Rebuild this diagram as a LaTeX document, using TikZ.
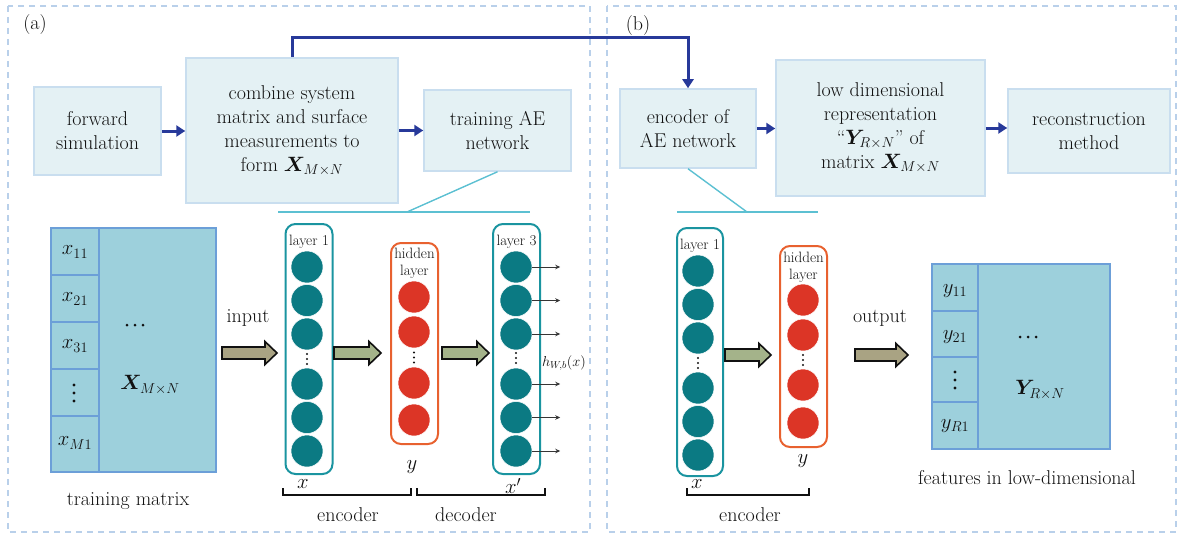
\documentclass[tikz,border=0pt]{standalone}
\usepackage{bm}
\usetikzlibrary{arrows.meta}
\definecolor{framec}{HTML}{B9D0EA}
\definecolor{boxfill}{HTML}{E4F1F4}
\definecolor{boxline}{HTML}{C9DEEF}
\definecolor{flowblue}{HTML}{27399A}
\definecolor{linkcyan}{HTML}{5CC0D2}
\definecolor{matfill}{HTML}{9DD0DC}
\definecolor{matline}{HTML}{6C9FD8}
\definecolor{tealc}{HTML}{0B7A83}
\definecolor{tealline}{HTML}{1A94A0}
\definecolor{redc}{HTML}{DC3526}
\definecolor{redline}{HTML}{E8612F}
\definecolor{khaki}{HTML}{A9A383}
\definecolor{sage}{HTML}{A4B38A}
\definecolor{ink}{HTML}{111111}

% thick hollow arrow between two x positions at height y
\newcommand{\fatarrow}[4]{%
  \draw[line width=1.6pt, draw=ink, fill=#4, line join=miter]
    (#1,#3-6) -- (#2-12,#3-6) -- (#2-12,#3-11.5) -- (#2,#3)
    -- (#2-12,#3+11.5) -- (#2-12,#3+6) -- (#1,#3+6) -- cycle;}

\tikzset{
  frame/.style={draw=framec, line width=2pt, dash pattern=on 6pt off 5pt},
  flowbox/.style={draw=boxline, fill=boxfill, line width=1.5pt, inner sep=0pt,
    align=center, text=ink},
  flow/.style={draw=flowblue, line width=3pt,
    -{Triangle[length=9pt,width=11pt]}},
  link/.style={draw=linkcyan, line width=1.4pt},
  matbox/.style={draw=matline, fill=matfill, line width=1.5pt, inner sep=0pt},
  matrule/.style={draw=matline, line width=1.5pt},
  tealayer/.style={draw=tealline, line width=2pt, rounded corners=10pt,
    inner sep=0pt, minimum width=47pt},
  redlayer/.style={draw=redline, line width=2pt, rounded corners=10pt,
    inner sep=0pt, minimum width=47pt},
  tealunit/.style={circle, fill=tealc, draw=white, line width=0.5pt,
    minimum size=32pt, inner sep=0pt},
  redunit/.style={circle, fill=redc, draw=white, line width=0.5pt,
    minimum size=32pt, inner sep=0pt},
  small/.style={font=\fontsize{15}{17}\selectfont, align=center, text=ink,
    inner sep=0pt},
  lbl/.style={text=ink, inner sep=0pt},
  brace/.style={draw=ink, line width=1.6pt},
  outarrow/.style={draw=ink!85, line width=0.9pt,
    -{Stealth[length=5pt,width=4.5pt]}},
  dot/.style={fill=ink, draw=none},
}

\begin{document}
\begin{tikzpicture}[x=1pt, y=-1pt, font=\fontsize{20}{24}\selectfont]
\useasboundingbox (0,0) rectangle (1181,535);

% panel frames and tags
\draw[frame] (8,6) rectangle (590,532);
\draw[frame] (607,6) rectangle (1176,532);
\node[lbl] (taga) at (35,25) {(a)};
\node[lbl] (tagb) at (638,26) {(b)};

% ---------- flow chart, panel (a)
\node[flowbox, minimum width=127pt, minimum height=88pt] (fwd) at (97.5,131)
  {forward\\simulation};
\node[flowbox, minimum width=212pt, minimum height=145pt] (comb) at (292,130.5)
  {combine system\\matrix and surface\\measurements to\\form $\bm{X}_{M\times N}$};
\node[flowbox, minimum width=147pt, minimum height=81pt] (train) at (497.5,130.5)
  {training AE\\network};

% ---------- flow chart, panel (b)
\node[flowbox, minimum width=136pt, minimum height=79pt] (enc) at (688,128.5)
  {encoder of\\AE network};
\node[flowbox, minimum width=209pt, minimum height=136pt] (low) at (880.5,128)
  {low dimensional\\representation\\``$\bm{Y}_{R\times N}$'' of\\matrix $\bm{X}_{M\times N}$};
\node[flowbox, minimum width=162pt, minimum height=84pt] (rec) at (1089,131)
  {reconstruction\\method};

\draw[flow] (fwd.east) -- (fwd.east -| comb.west);
\draw[flow] (comb.east) -- (comb.east -| train.west);
\draw[flow] (enc.east) -- (enc.east -| low.west);
\draw[flow] (low.east) -- (low.east -| rec.west);
\draw[flow] (comb.north) -- ++(0,-20) -| (enc.north);

% ---------- zoom-in links
\coordinate (la1) at (278,212);
\coordinate (la2) at (530,212);
\coordinate (lam) at (407,212);
\draw[link] (la1) -- (la2);
\draw[link] (train.south) -- (lam);
\coordinate (lb1) at (677,212);
\coordinate (lb2) at (818,212);
\coordinate (lbm) at (747,212);
\draw[link] (lb1) -- (lb2);
\draw[link] (enc.south) -- (lbm);

% ---------- training matrix
\node[matbox, minimum width=165pt, minimum height=244pt] (tm) at (133.5,350) {};
\draw[matrule] (99,228) -- (99,472);
\foreach \yy in {275,322,369,416} \draw[matrule] (51,\yy) -- (99,\yy);
\node[lbl] (x11) at (75,252) {$x_{11}$};
\node[lbl] (x21) at (75,299) {$x_{21}$};
\node[lbl] (x31) at (75,346) {$x_{31}$};
\node[lbl] (xM1) at (75,443) {$x_{M1}$};
\foreach \d in {-8,0,8} {
  \fill[dot] (74,393+\d) circle (1.7pt);
  \fill[dot] (135+\d,325) circle (1.5pt);
}
\node[lbl] (xmat) at (150,385) {$\bm{X}_{M\times N}$};
\node[lbl] (tmcap) at (128,501) {training matrix};

\node[lbl] (inlbl) at (248,318) {input};
\fatarrow{222}{277}{353}{khaki}

% ---------- autoencoder, panel (a)
\node[tealayer, minimum height=250pt] (aL1) at (309,349) {};
\node[redlayer, minimum height=201pt] (aH) at (414.5,343.5) {};
\node[tealayer, minimum height=250pt] (aL3) at (516.5,349) {};
\node[small] (aL1t) at (309,242) {layer 1};
\node[small] (aHt) at (414.5,263) {hidden\\layer};
\node[small] (aL3t) at (516.5,242) {layer 3};

\foreach \i/\yy in {1/267,2/300.5,3/334,4/384,5/417.5,6/451} {
  \node[tealunit] (a1c\i) at (307,\yy) {};
  \node[tealunit] (a3c\i) at (516,\yy) {};
  \draw[outarrow] (a3c\i.east) -- ++(28,0);
}
\foreach \i/\yy in {1/297,2/332,3/383,4/420}
  \node[redunit] (ahc\i) at (414,\yy) {};
\foreach \xx/\yy in {307/359,516/358,414/357.5}
  \foreach \d in {-5,0,5} \fill[dot] (\xx,\yy+\d) circle (1.2pt);

\fatarrow{334}{381}{353}{sage}
\fatarrow{442}{489}{353}{sage}

\node[lbl, font=\fontsize{14}{16}\selectfont] (hwb) at (564,363) {$h_{W,b}(x)$};
\node[lbl] (ay) at (412,467) {$y$};
\node[lbl] (ax) at (303,484) {$x$};
\node[lbl] (axp) at (513,486) {$x'$};

\draw[brace] (283,488) -- (283,495) -- (411,495) -- (411,488);
\draw[brace] (417,488) -- (417,495) -- (545,495) -- (545,488);
\node[lbl] (aenc) at (348,515) {encoder};
\node[lbl] (adec) at (466,515) {decoder};

% ---------- encoder, panel (b)
\node[tealayer, minimum height=248pt, minimum width=46pt] (bL1) at (700,352) {};
\node[redlayer, minimum height=201pt] (bH) at (803.5,346.5) {};
\node[small] (bL1t) at (700,246) {layer 1};
\node[small] (bHt) at (803.5,267) {hidden\\layer};
\foreach \i/\yy in {1/271,2/304.5,3/338,4/388,5/421.5,6/455}
  \node[tealunit] (b1c\i) at (698,\yy) {};
\foreach \i/\yy in {1/300,2/335,3/385,4/423}
  \node[redunit] (bhc\i) at (803,\yy) {};
\foreach \xx/\yy in {698/363,803/360}
  \foreach \d in {-5,0,5} \fill[dot] (\xx,\yy+\d) circle (1.2pt);

\fatarrow{725}{771}{355}{sage}

\node[lbl] (by) at (803,461) {$y$};
\node[lbl] (bx) at (697,484) {$x$};
\draw[brace] (687,488) -- (687,495) -- (809,495) -- (809,488);
\node[lbl] (benc) at (750,515) {encoder};

\node[lbl] (outlbl) at (880,318) {output};
\fatarrow{855}{908}{355}{khaki}

% ---------- low-dimensional feature matrix
\node[matbox, minimum width=178pt, minimum height=185pt] (fm) at (1021,356.5) {};
\draw[matrule] (978,264) -- (978,449);
\foreach \yy in {311,357,402} \draw[matrule] (932,\yy) -- (978,\yy);
\node[lbl] (y11) at (955,291) {$y_{11}$};
\node[lbl] (y21) at (955,337) {$y_{21}$};
\node[lbl] (yR1) at (955,426) {$y_{R1}$};
\foreach \d in {-8,0,8} {
  \fill[dot] (955,380+\d) circle (1.7pt);
  \fill[dot] (1028+\d,337) circle (1.5pt);
}
\node[lbl] (ymat) at (1040,390) {$\bm{Y}_{R\times N}$};
\node[lbl] (fmcap) at (1027,478) {features in low-dimensional};
\end{tikzpicture}
\end{document}
